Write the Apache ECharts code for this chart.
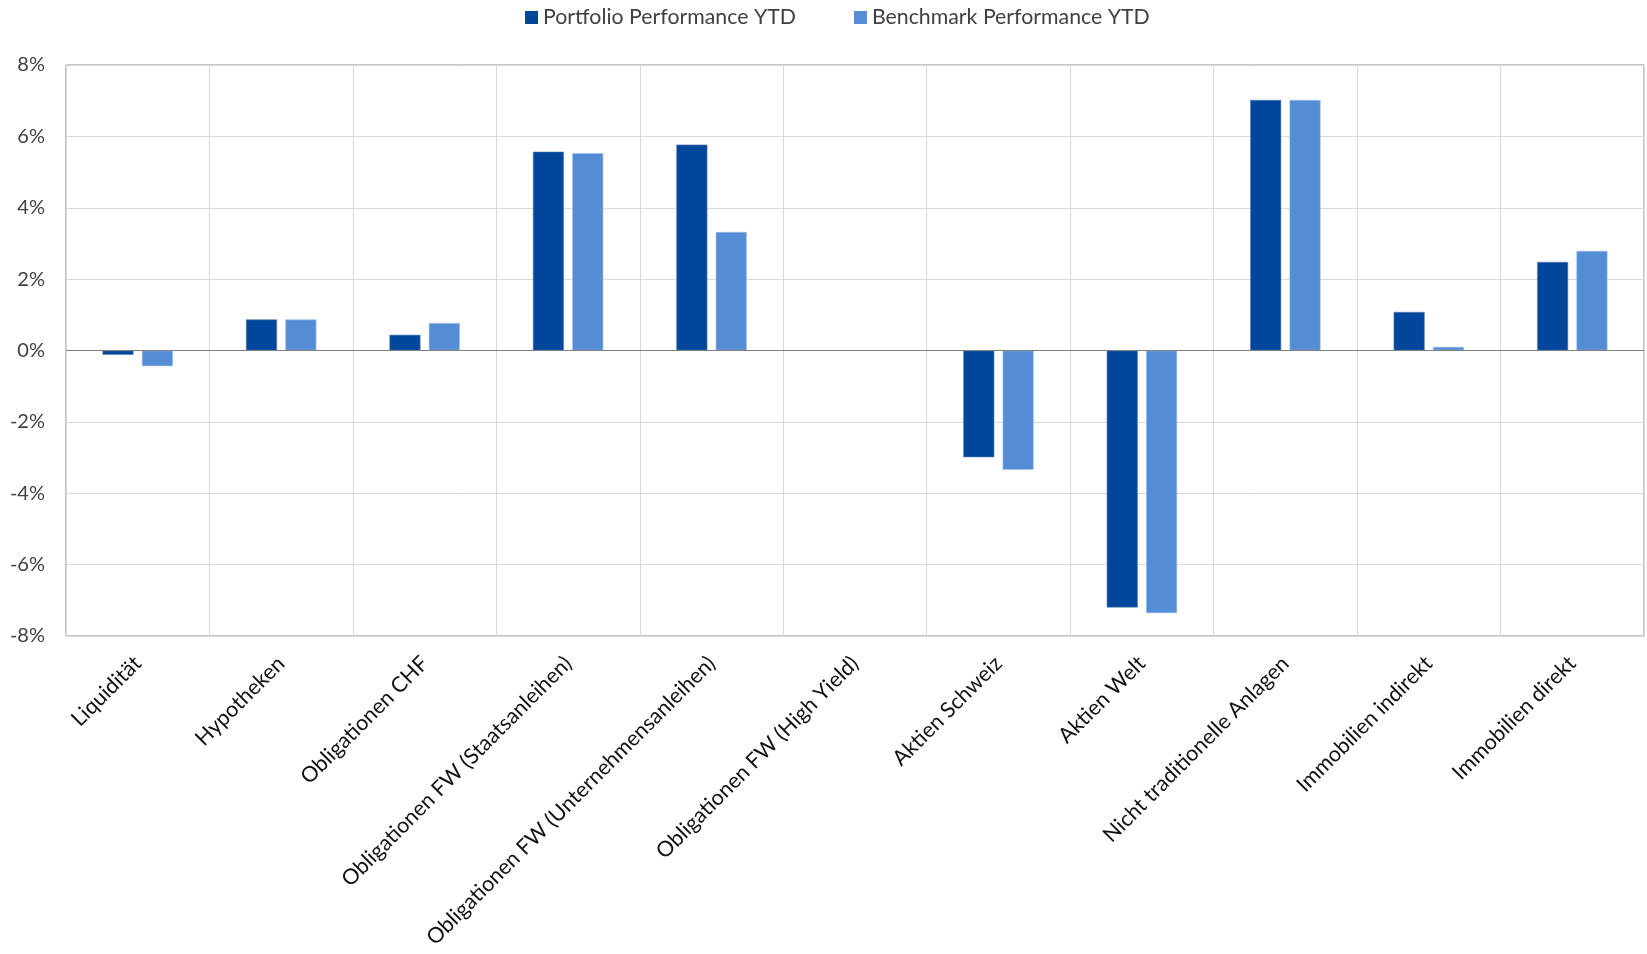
<!DOCTYPE html>
<html>
<head>
<meta charset="utf-8">
<script src="https://cdn.jsdelivr.net/npm/echarts@6/dist/echarts.min.js"></script>
<style>
  html, body { margin: 0; padding: 0; background: #ffffff; }
  #chart { width: 1647px; height: 954px; }
</style>
</head>
<body>
<div id="chart"></div>
<script>
// Asset classes on the x axis
const categories = [
  'Liquidität',
  'Hypotheken',
  'Obligationen CHF',
  'Obligationen FW (Staatsanleihen)',
  'Obligationen FW (Unternehmensanleihen)',
  'Obligationen FW (High Yield)',
  'Aktien Schweiz',
  'Aktien Welt',
  'Nicht traditionelle Anlagen',
  'Immobilien indirekt',
  'Immobilien direkt'
];

// Year-to-date performance in percent
const portfolioYTD = [-0.12, 0.87, 0.44, 5.57, 5.77, 0, -2.99, -7.20, 7.02, 1.08, 2.48];
const benchmarkYTD = [-0.44, 0.87, 0.77, 5.53, 3.32, 0, -3.34, -7.36, 7.02, 0.10, 2.79];

const seriesNames = ['Portfolio Performance YTD', 'Benchmark Performance YTD'];

const FONT = 'Lato, "Open Sans", sans-serif';
const AXIS_TEXT = '#404040';
const CAT_TEXT = '#111111';

const chart = echarts.init(document.getElementById('chart'), null, { renderer: 'canvas' });

chart.setOption({
  animation: false,
  backgroundColor: '#ffffff',
  textStyle: { fontFamily: FONT },
  legend: {
    top: 2,
    left: 520,
    itemWidth: 13,
    itemHeight: 13,
    itemGap: 58,
    icon: 'rect',
    itemStyle: { borderWidth: 0 },
    textStyle: { fontFamily: FONT, fontSize: 21.3, color: AXIS_TEXT },
    data: seriesNames
  },
  grid: {
    left: 66,
    right: 3,
    top: 65,
    bottom: 318,
    show: true,
    borderColor: '#8c8c8c',
    borderWidth: 1
  },
  xAxis: {
    type: 'category',
    data: categories,
    boundaryGap: true,
    axisLine: { show: false, onZero: false },
    axisTick: { show: false },
    splitLine: { show: true, lineStyle: { color: '#d9d9d9', width: 1 } },
    axisLabel: {
      rotate: 45,
      interval: 0,
      margin: 24,
      fontFamily: FONT,
      fontSize: 21.5,
      color: CAT_TEXT
    }
  },
  yAxis: {
    type: 'value',
    min: -8,
    max: 8,
    interval: 2,
    axisLine: { show: false },
    axisTick: { show: false },
    splitLine: { show: true, lineStyle: { color: '#d9d9d9', width: 1 } },
    axisLabel: {
      formatter: '{value}%',
      margin: 21,
      fontFamily: FONT,
      fontSize: 20,
      color: AXIS_TEXT
    }
  },
  series: [
    {
      name: seriesNames[0],
      type: 'bar',
      data: portfolioYTD,
      barWidth: 31,
      barGap: '27%',
      itemStyle: { color: '#00479b', borderColor: '#5a78b0', borderWidth: 0.6 },
      markLine: {
        silent: true,
        symbol: 'none',
        label: { show: false },
        lineStyle: { color: '#7f7f7f', width: 1.2, type: 'solid' },
        data: [{ yAxis: 0 }]
      }
    },
    {
      name: seriesNames[1],
      type: 'bar',
      data: benchmarkYTD,
      barWidth: 31,
      barGap: '27%',
      itemStyle: { color: '#548dd5', borderColor: '#9dbde8', borderWidth: 0.6 }
    }
  ]
});
</script>
</body>
</html>
